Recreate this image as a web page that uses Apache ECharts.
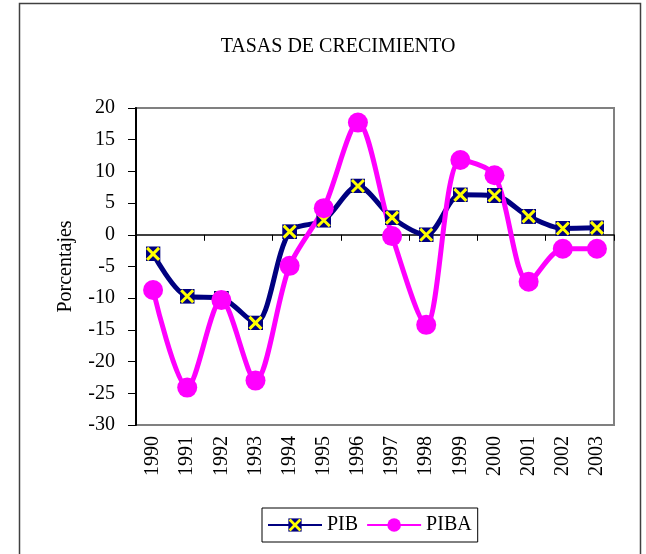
<!DOCTYPE html>
<html lang="es">
<head>
    <meta charset="UTF-8">
    <title>Tasas de crecimiento</title>
    <style>
        html, body { margin: 0; padding: 0; background: #fff; }
        .chart { width: 646px; height: 554px; }
    </style>
</head>
<body>
    <div class="chart"></div>
    <script src="https://cdn.jsdelivr.net/npm/echarts@6/dist/echarts.min.js"></script>
    <script>
        const years = ['1990', '1991', '1992', '1993', '1994', '1995', '1996', '1997', '1998', '1999', '2000', '2001', '2002', '2003']
        const pib = [-3.0, -9.7, -10.0, -13.9, 0.5, 2.3, 7.7, 2.7, 0.0, 6.3, 6.2, 2.9, 1.0, 1.1]
        const piba = [-8.7, -24.1, -10.3, -23.0, -4.9, 4.2, 17.7, -0.2, -14.2, 11.8, 9.4, -7.4, -2.2, -2.2]
        const yTicks = { min: -30, max: 20, interval: 5 }

        const serif = '"Liberation Serif", "DejaVu Serif", serif'

        // cuadrado azul con una X amarilla, como el marcador de Excel
        const xMark = 'image://data:image/svg+xml;charset=utf-8,' + encodeURIComponent(
            "<svg xmlns='http://www.w3.org/2000/svg' width='30' height='30'>" +
            "<rect width='30' height='30' fill='#000080'/>" +
            "<path d='M3 3L27 27M27 3L3 27' stroke='#ffff00' stroke-width='6'/></svg>")

        const chart = echarts.init(document.querySelector('.chart'))
        chart.setOption({
            animation: false,
            title: {
                text: 'TASAS DE CRECIMIENTO',
                left: 333,
                textAlign: 'center',
                top: 32,
                textStyle: { fontFamily: serif, fontSize: 20, fontWeight: 'normal', color: '#000' }
            },
            graphic: [{
                type: 'rect',
                shape: { x: 19.5, y: 3.5, width: 621, height: 570 },
                style: { fill: 'none', stroke: '#404040', lineWidth: 1.5 },
                silent: true
            }],
            grid: {
                left: 136, right: 32, top: 108, bottom: 129,
                show: true, borderColor: '#808080', borderWidth: 2
            },
            legend: {
                left: 262, top: 508,
                padding: [7, 6, 7, 5],
                itemWidth: 54, itemHeight: 17, itemGap: 8,
                borderColor: '#000', borderWidth: 1,
                textStyle: { fontFamily: serif, fontSize: 20, color: '#000' },
                data: ['PIB', 'PIBA']
            },
            xAxis: [{
                type: 'category',
                data: years,
                axisLine: { onZero: true, lineStyle: { color: '#000', width: 1.5 } },
                axisTick: { show: true, length: 6, lineStyle: { color: '#000' } },
                axisLabel: { show: false },
                splitLine: { show: false }
            }, {
                type: 'category',
                data: years,
                position: 'bottom',
                axisLine: { show: false, onZero: false },
                axisTick: { show: false },
                axisLabel: { rotate: 90, margin: 11, fontFamily: serif, fontSize: 20, color: '#000' }
            }],
            yAxis: {
                type: 'value',
                min: yTicks.min,
                max: yTicks.max,
                interval: yTicks.interval,
                name: 'Porcentajes',
                nameLocation: 'middle',
                nameGap: 60,
                nameTextStyle: { fontFamily: serif, fontSize: 20, color: '#000' },
                axisLine: { show: true, lineStyle: { color: '#000', width: 2 } },
                axisTick: { show: true, length: 8, lineStyle: { color: '#000' } },
                axisLabel: { margin: 21, fontFamily: serif, fontSize: 20, color: '#000' },
                splitLine: { show: false }
            },
            series: [{
                name: 'PIB',
                type: 'line',
                data: pib,
                smooth: 0.3,
                symbol: xMark,
                symbolSize: 15,
                lineStyle: { color: '#000080', width: 5 },
                itemStyle: { color: '#000080' }
            }, {
                name: 'PIBA',
                type: 'line',
                data: piba,
                smooth: 0.3,
                symbol: 'circle',
                symbolSize: 20,
                lineStyle: { color: '#ff00ff', width: 5 },
                itemStyle: { color: '#ff00ff' }
            }]
        })
    </script>
</body>
</html>
